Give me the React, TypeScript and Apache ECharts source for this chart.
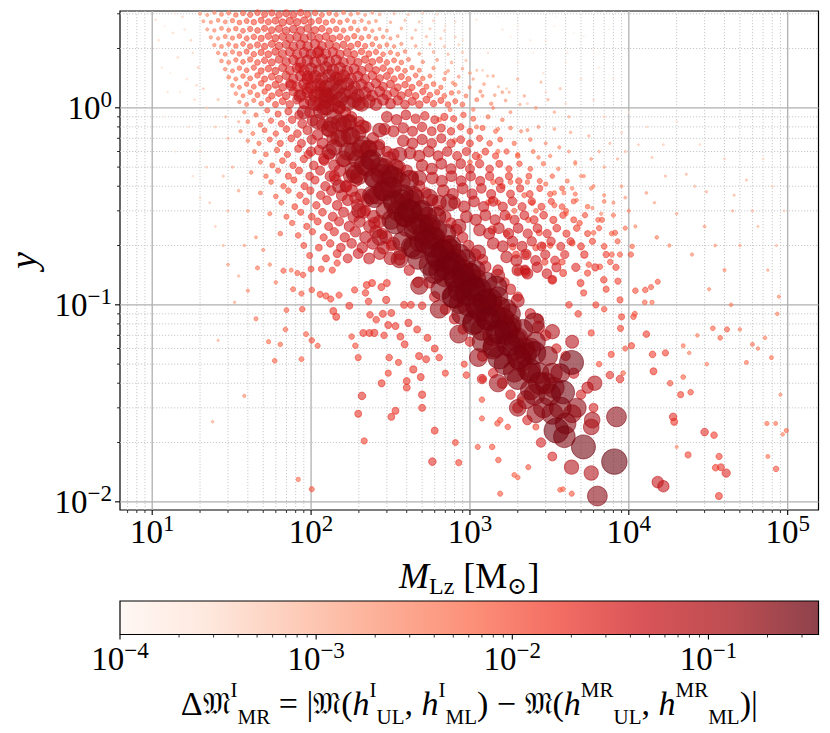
import React, { useEffect, useRef } from 'react';
import * as echarts from 'echarts';

// ---- axis ranges ----
const X_MIN = 6.27;
const X_MAX = 1.563e5;
const Y_MIN = 0.00909;
const Y_MAX = 3.1;
const C_MIN = 1e-4;
const C_MAX = 0.364;

const xMajorTicks = [10, 100, 1000, 10000, 100000];
const yMajorTicks = [0.01, 0.1, 1];
const cMajorTicks = [1e-4, 1e-3, 1e-2, 1e-1];
const minorMultipliers = [2, 3, 4, 5, 6, 7, 8, 9];
const xDecades = [1, 10, 100, 1000, 10000, 100000];
const yDecades = [0.001, 0.01, 0.1, 1];
const cDecades = [1e-4, 1e-3, 1e-2, 1e-1];

// ---- data points: [M_Lz, y, DeltaM] ----
const bandCore = [
  [75, 1.3, 0.05], [85, 1.15, 0.07], [95, 1.25, 0.06], [90, 0.95, 0.08], [105, 1.05, 0.09], [110, 0.85, 0.1],
  [120, 1.0, 0.1], [130, 0.78, 0.12], [140, 0.9, 0.11], [150, 0.7, 0.13], [160, 0.82, 0.12], [170, 0.6, 0.15],
  [180, 0.72, 0.14], [195, 0.55, 0.16], [210, 0.65, 0.15], [225, 0.5, 0.17], [240, 0.545, 0.2], [250, 0.44, 0.18],
  [270, 0.5, 0.18], [282, 0.38, 0.2], [300, 0.42, 0.2], [325, 0.446, 0.22], [330, 0.34, 0.22], [350, 0.3, 0.2],
  [375, 0.21, 0.18], [380, 0.36, 0.22], [415, 0.3, 0.26], [415, 0.43, 0.18], [430, 0.197, 0.22], [460, 0.26, 0.24],
  [500, 0.3, 0.22], [520, 0.23, 0.25], [555, 0.35, 0.14], [580, 0.2, 0.26], [615, 0.28, 0.18], [640, 0.17, 0.28],
  [640, 0.15, 0.22], [710, 0.23, 0.18], [740, 0.165, 0.27], [740, 0.33, 0.14], [800, 0.14, 0.26], [860, 0.18, 0.22],
  [860, 0.119, 0.28], [860, 0.102, 0.22], [950, 0.13, 0.26], [1040, 0.123, 0.3], [1150, 0.119, 0.28], [1150, 0.094, 0.26],
  [1190, 0.075, 0.24], [1250, 0.105, 0.28], [1300, 0.085, 0.27], [1460, 0.123, 0.25], [1530, 0.097, 0.24], [1530, 0.054, 0.27],
  [1600, 0.085, 0.26], [1700, 0.072, 0.27], [1770, 0.077, 0.24], [1900, 0.06, 0.26], [2100, 0.052, 0.24], [2250, 0.033, 0.16],
  [2540, 0.081, 0.2], [2540, 0.057, 0.27], [2600, 0.028, 0.16], [2700, 0.045, 0.22], [3000, 0.04, 0.22], [3300, 0.045, 0.2],
  [3370, 0.038, 0.22], [3500, 0.023, 0.32], [3850, 0.036, 0.28], [3930, 0.0214, 0.24], [4360, 0.051, 0.3], [4400, 0.028, 0.16],
  [5180, 0.019, 0.3], [5800, 0.024, 0.12], [5880, 0.026, 0.12], [6340, 0.0107, 0.2], [8110, 0.016, 0.34], [8360, 0.027, 0.2],
  [3300, 0.073, 0.1], [4400, 0.065, 0.08], [6100, 0.04, 0.1], [5500, 0.038, 0.06], [4360, 0.015, 0.1], [5800, 0.014, 0.1],
  [160, 0.55, 0.12], [185, 0.48, 0.14], [200, 0.75, 0.1], [230, 0.62, 0.12], [260, 0.36, 0.16], [290, 0.3, 0.14],
  [310, 0.55, 0.1], [350, 0.45, 0.12], [400, 0.25, 0.2], [450, 0.35, 0.16], [480, 0.21, 0.2], [550, 0.25, 0.2],
  [600, 0.22, 0.22], [680, 0.19, 0.22], [700, 0.14, 0.24], [760, 0.2, 0.2], [900, 0.15, 0.24], [980, 0.1, 0.26],
  [1000, 0.145, 0.2], [1100, 0.135, 0.18], [1350, 0.1, 0.24], [1400, 0.07, 0.22], [1700, 0.095, 0.2], [2000, 0.068, 0.2],
  [2200, 0.06, 0.22], [2400, 0.045, 0.2],
];

// centre line of the dark band
const bandCentre = [
  [115, 0.96, 0.1], [135, 0.82, 0.12], [158, 0.7, 0.14], [185, 0.6, 0.16], [215, 0.51, 0.18], [250, 0.44, 0.2],
  [290, 0.38, 0.22], [335, 0.33, 0.24], [390, 0.285, 0.25], [455, 0.242, 0.26], [530, 0.208, 0.27], [615, 0.179, 0.28],
  [715, 0.154, 0.29], [830, 0.133, 0.3], [965, 0.114, 0.3], [1120, 0.098, 0.3], [1300, 0.085, 0.3], [1510, 0.073, 0.29],
  [1750, 0.063, 0.28], [2030, 0.054, 0.27], [2360, 0.047, 0.26], [2740, 0.04, 0.25], [3180, 0.035, 0.24], [3700, 0.03, 0.24],
  [125, 1.0, 0.1], [150, 0.84, 0.12], [175, 0.72, 0.14], [205, 0.62, 0.16], [235, 0.54, 0.18], [275, 0.46, 0.2],
  [320, 0.395, 0.22], [370, 0.34, 0.23], [430, 0.295, 0.24], [500, 0.253, 0.25], [580, 0.218, 0.26], [675, 0.187, 0.27],
  [785, 0.161, 0.28], [910, 0.139, 0.28], [1060, 0.119, 0.28], [1230, 0.103, 0.28], [1430, 0.088, 0.27], [1660, 0.076, 0.26],
  [1930, 0.066, 0.25], [2240, 0.056, 0.24],
];

const bandFill = [
  [130, 0.6, 0.1], [150, 1.0, 0.08], [175, 0.85, 0.1], [200, 0.45, 0.14], [210, 0.8, 0.09], [240, 0.36, 0.16],
  [260, 0.62, 0.12], [290, 0.5, 0.14], [320, 0.27, 0.18], [340, 0.5, 0.12], [370, 0.42, 0.16], [390, 0.28, 0.22],
  [440, 0.36, 0.16], [470, 0.17, 0.2], [490, 0.3, 0.18], [540, 0.28, 0.18], [560, 0.16, 0.24], [620, 0.24, 0.2],
  [660, 0.12, 0.22], [720, 0.2, 0.2], [780, 0.11, 0.24], [820, 0.17, 0.22], [900, 0.09, 0.24], [940, 0.17, 0.2],
  [1050, 0.08, 0.24], [1080, 0.15, 0.2], [1200, 0.065, 0.22], [1280, 0.13, 0.2], [1400, 0.06, 0.22], [1500, 0.11, 0.2],
  [1650, 0.05, 0.22], [1800, 0.09, 0.2], [2000, 0.042, 0.22], [2150, 0.075, 0.2], [2400, 0.037, 0.2], [2600, 0.065, 0.18],
  [2900, 0.03, 0.2], [3100, 0.055, 0.18], [3300, 0.028, 0.22], [3700, 0.045, 0.18], [4000, 0.025, 0.22], [4700, 0.03, 0.18],
  [110, 1.2, 0.07], [95, 1.45, 0.05], [85, 1.6, 0.04],
  [150, 0.4, 0.08], [200, 0.3, 0.1], [270, 0.22, 0.12], [360, 0.17, 0.14], [480, 0.125, 0.15], [640, 0.095, 0.16],
  [850, 0.071, 0.16], [1130, 0.054, 0.16], [1500, 0.04, 0.15], [2000, 0.03, 0.14],
  [110, 1.9, 0.05], [150, 1.4, 0.07], [200, 1.05, 0.08], [270, 0.77, 0.09], [360, 0.58, 0.1], [480, 0.44, 0.1],
  [640, 0.33, 0.1], [850, 0.25, 0.1], [1130, 0.185, 0.1], [1500, 0.14, 0.09], [2000, 0.105, 0.08], [2700, 0.077, 0.07],
  [125, 1.15, 0.1], [170, 0.84, 0.12], [230, 0.62, 0.15], [310, 0.46, 0.18], [420, 0.34, 0.2], [560, 0.255, 0.22],
  [750, 0.19, 0.24], [1000, 0.143, 0.26], [1350, 0.106, 0.26], [1800, 0.079, 0.24], [2400, 0.06, 0.22],
  [140, 0.63, 0.12], [190, 0.46, 0.16], [250, 0.35, 0.2], [340, 0.26, 0.24], [450, 0.195, 0.26], [600, 0.147, 0.28],
  [800, 0.11, 0.28], [1070, 0.082, 0.28], [1430, 0.062, 0.26], [1900, 0.046, 0.24], [2550, 0.035, 0.22],
];

const bandRidge = [
  [100, 1.4, 0.04], [115, 1.3, 0.05], [125, 1.2, 0.05], [135, 1.1, 0.06], [150, 1.0, 0.06], [165, 0.95, 0.05],
  [180, 0.9, 0.05], [200, 0.85, 0.05], [220, 0.8, 0.06], [245, 0.7, 0.06], [270, 0.65, 0.05], [300, 0.6, 0.05],
  [330, 0.58, 0.06], [360, 0.5, 0.07], [400, 0.48, 0.06], [440, 0.45, 0.05], [480, 0.4, 0.06], [530, 0.37, 0.05],
  [580, 0.34, 0.06], [640, 0.3, 0.05], [700, 0.28, 0.06], [760, 0.26, 0.05], [820, 0.24, 0.06], [900, 0.22, 0.05],
  [980, 0.2, 0.05], [1080, 0.18, 0.06], [1200, 0.17, 0.05], [1250, 0.156, 0.06], [1380, 0.24, 0.03], [1500, 0.15, 0.05],
  [1650, 0.13, 0.04], [1800, 0.12, 0.05], [2000, 0.11, 0.04], [2220, 0.15, 0.045], [2250, 0.145, 0.035], [2400, 0.09, 0.05],
  [2700, 0.085, 0.04], [3000, 0.07, 0.05], [3300, 0.134, 0.035], [3500, 0.06, 0.04], [4000, 0.055, 0.04], [4500, 0.045, 0.05],
  [5000, 0.035, 0.04], [6000, 0.03, 0.035], [7600, 0.044, 0.025], [8800, 0.042, 0.025],
  [100, 0.6, 0.04], [120, 0.55, 0.05], [140, 0.45, 0.05], [165, 0.4, 0.05], [190, 0.35, 0.06], [220, 0.3, 0.05],
  [250, 0.26, 0.06], [280, 0.23, 0.05], [320, 0.2, 0.05], [360, 0.17, 0.06], [415, 0.15, 0.05], [470, 0.13, 0.05],
  [555, 0.13, 0.06], [600, 0.11, 0.05], [700, 0.095, 0.05], [800, 0.085, 0.05], [900, 0.075, 0.04], [1000, 0.065, 0.04],
  [1190, 0.042, 0.04], [1200, 0.055, 0.05], [1400, 0.045, 0.04], [1600, 0.04, 0.05], [1800, 0.035, 0.04], [2000, 0.03, 0.05],
  [2300, 0.026, 0.04], [2800, 0.02, 0.04], [3300, 0.017, 0.035],
];

const lowerScatter = [
  [209, 0.0345, 0.025], [198, 0.028, 0.02], [216, 0.0204, 0.015], [101, 0.0116, 0.01], [83, 0.013, 0.006], [24, 0.0255, 0.0015],
  [38, 0.0345, 0.003], [580, 0.016, 0.025], [600, 0.023, 0.02], [500, 0.03, 0.02], [500, 0.035, 0.022], [340, 0.029, 0.02],
  [320, 0.027, 0.02], [278, 0.04, 0.02], [400, 0.038, 0.02], [400, 0.041, 0.02], [306, 0.045, 0.015], [490, 0.043, 0.02],
  [355, 0.051, 0.015], [440, 0.047, 0.022], [310, 0.054, 0.018], [198, 0.054, 0.015], [190, 0.062, 0.012], [180, 0.069, 0.012],
  [110, 0.062, 0.01], [101, 0.066, 0.012], [93, 0.071, 0.009], [87, 0.053, 0.009], [59, 0.052, 0.008], [54, 0.065, 0.006],
  [64, 0.063, 0.007], [45, 0.085, 0.005], [70, 0.094, 0.009], [88, 0.095, 0.012], [101, 0.119, 0.012], [87, 0.114, 0.01],
  [77, 0.12, 0.009], [69, 0.075, 0.008], [138, 0.093, 0.02], [144, 0.087, 0.02], [174, 0.099, 0.02], [213, 0.072, 0.02],
  [233, 0.072, 0.02], [250, 0.072, 0.022], [288, 0.07, 0.018], [365, 0.069, 0.02], [388, 0.063, 0.02], [478, 0.055, 0.02],
  [530, 0.053, 0.02], [600, 0.06, 0.02], [540, 0.068, 0.02], [465, 0.075, 0.02], [410, 0.081, 0.022], [340, 0.078, 0.02],
  [306, 0.079, 0.02], [257, 0.084, 0.018], [235, 0.089, 0.018], [283, 0.09, 0.02], [320, 0.091, 0.02], [385, 0.1, 0.02],
  [425, 0.1, 0.02], [500, 0.099, 0.025], [297, 0.106, 0.022], [230, 0.104, 0.018], [133, 0.107, 0.016], [150, 0.112, 0.016],
  [188, 0.119, 0.016], [220, 0.115, 0.018], [224, 0.126, 0.02], [242, 0.129, 0.02], [277, 0.123, 0.02], [300, 0.129, 0.02],
  [114, 0.113, 0.014], [124, 0.111, 0.014], [67, 0.149, 0.01], [89, 0.142, 0.012], [82, 0.145, 0.01], [100, 0.152, 0.014],
  [116, 0.152, 0.014], [136, 0.15, 0.016], [146, 0.163, 0.016], [46, 0.154, 0.005], [30, 0.16, 0.002], [40, 0.118, 0.003],
  [33, 0.103, 0.0015], [26, 0.066, 0.0012],
  [1190, 0.0265, 0.01], [1120, 0.019, 0.01], [1380, 0.019, 0.012], [1510, 0.0163, 0.012], [1550, 0.011, 0.01], [1900, 0.0137, 0.008],
  [2000, 0.0133, 0.008], [2330, 0.015, 0.01], [3690, 0.0115, 0.008], [3850, 0.0116, 0.008], [4370, 0.011, 0.01], [850, 0.0158, 0.015],
  [810, 0.02, 0.014], [1190, 0.033, 0.012], [1490, 0.025, 0.012], [1550, 0.026, 0.012], [1730, 0.024, 0.012], [2600, 0.024, 0.015],
  [2100, 0.033, 0.014], [1200, 0.042, 0.018], [950, 0.044, 0.018], [920, 0.05, 0.015], [640, 0.054, 0.018], [700, 0.045, 0.015],
];

const rightScatter = [
  [11000, 0.118, 0.012], [12700, 0.119, 0.012], [13800, 0.123, 0.01], [15200, 0.131, 0.01], [12600, 0.103, 0.008], [14000, 0.103, 0.006],
  [10700, 0.087, 0.012], [10900, 0.09, 0.01], [10400, 0.062, 0.015], [12900, 0.071, 0.018], [14100, 0.056, 0.018], [17000, 0.057, 0.016],
  [14300, 0.046, 0.02], [18200, 0.04, 0.012], [21200, 0.035, 0.015], [24500, 0.036, 0.012], [22000, 0.043, 0.008], [19000, 0.027, 0.025],
  [19300, 0.0255, 0.02], [23600, 0.0173, 0.015], [30000, 0.0226, 0.025], [34400, 0.0218, 0.018], [37000, 0.017, 0.016], [35200, 0.0149, 0.018],
  [38000, 0.015, 0.02], [41000, 0.014, 0.03], [36900, 0.0107, 0.02], [15200, 0.0126, 0.06], [16500, 0.012, 0.06], [84500, 0.0147, 0.012],
  [98000, 0.023, 0.006], [93000, 0.022, 0.004], [74000, 0.025, 0.006], [84000, 0.025, 0.005], [33800, 0.076, 0.008], [41500, 0.075, 0.01],
  [37600, 0.068, 0.008], [22000, 0.062, 0.005], [24000, 0.057, 0.004], [27000, 0.07, 0.004], [31000, 0.05, 0.004], [55000, 0.051, 0.005],
  [60000, 0.063, 0.005], [65000, 0.06, 0.004], [79000, 0.054, 0.005], [72000, 0.068, 0.004], [50000, 0.075, 0.004], [44000, 0.1, 0.004],
  [32000, 0.12, 0.003], [75000, 0.017, 0.005], [20000, 0.019, 0.003], [90000, 0.035, 0.003], [86000, 0.09, 0.004], [88000, 0.11, 0.003],
  [3300, 0.134, 0.02], [3860, 0.145, 0.02], [4970, 0.129, 0.02], [5200, 0.115, 0.015], [5800, 0.072, 0.015], [6960, 0.134, 0.018],
  [7200, 0.12, 0.015], [8540, 0.132, 0.015], [9000, 0.087, 0.015], [8870, 0.076, 0.015], [8800, 0.106, 0.015], [7750, 0.056, 0.015],
  [6570, 0.156, 0.012], [5600, 0.16, 0.012], [7640, 0.165, 0.012], [7800, 0.18, 0.01], [8790, 0.18, 0.01], [8200, 0.232, 0.01],
  [6770, 0.27, 0.01], [6000, 0.232, 0.008], [4900, 0.26, 0.012], [4400, 0.206, 0.014], [3800, 0.165, 0.015], [2960, 0.165, 0.018],
  [2880, 0.2, 0.014], [3200, 0.2, 0.012], [2730, 0.232, 0.014], [2330, 0.27, 0.012], [2470, 0.33, 0.01], [3400, 0.32, 0.01],
  [4030, 0.3, 0.01], [2600, 0.195, 0.016], [2220, 0.15, 0.03], [2000, 0.148, 0.02], [1950, 0.18, 0.02], [1860, 0.197, 0.018],
  [2250, 0.18, 0.02], [1700, 0.23, 0.016], [1750, 0.28, 0.014], [1500, 0.33, 0.012], [1300, 0.33, 0.012], [9500, 0.06, 0.01],
  [9200, 0.045, 0.008], [6500, 0.05, 0.012], [7000, 0.095, 0.012], [6200, 0.1, 0.015], [4800, 0.09, 0.018], [4200, 0.1, 0.018],
  [5500, 0.145, 0.015],
];

// dense upper cloud, read row by row (y roughly constant per row)
const topCloudRows = [
  [20, 3.0, 2.2e-3], [22.2, 2.96, 2.7e-3], [24.6, 3.04, 3.6e-3], [27.3, 2.98, 4.5e-3], [30.3, 3.03, 5.4e-3], [33.6, 2.96, 7e-3],
  [37.3, 3.02, 9e-3], [41.4, 2.97, 0.011], [46, 3.04, 0.013], [51, 2.98, 0.014], [56.6, 3.03, 0.016], [62.8, 2.96, 0.018],
  [69.7, 3.02, 0.02], [77.4, 2.97, 0.02], [86, 3.04, 0.018], [95, 2.98, 0.014], [106, 3.03, 0.012], [117, 2.96, 9e-3],
  [130, 3.02, 7e-3], [144, 2.97, 5.8e-3], [160, 3.04, 4.7e-3], [178, 2.98, 3.6e-3], [197, 3.02, 2.9e-3], [219, 2.96, 2.3e-3],
  [243, 3.03, 1.8e-3], [270, 2.98, 1.4e-3], [333, 3.0, 1e-3], [410, 2.97, 7e-4], [505, 3.03, 5e-4], [622, 2.98, 4e-4],
  [21, 2.75, 2.2e-3], [23.4, 2.72, 2.9e-3], [26, 2.78, 3.8e-3], [28.8, 2.73, 4.9e-3], [32, 2.77, 6e-3], [35.4, 2.71, 7.6e-3],
  [39.3, 2.76, 9.4e-3], [43.6, 2.72, 0.0115], [48.5, 2.78, 0.014], [53.8, 2.73, 0.016], [59.7, 2.77, 0.019], [66.2, 2.71, 0.022],
  [73.5, 2.76, 0.023], [81.6, 2.72, 0.023], [90.5, 2.78, 0.022], [100, 2.73, 0.018], [112, 2.77, 0.014], [124, 2.71, 0.0115],
  [137, 2.76, 9e-3], [152, 2.72, 7.2e-3], [169, 2.78, 5.8e-3], [187, 2.73, 4.5e-3], [208, 2.77, 3.6e-3], [231, 2.71, 2.9e-3],
  [256, 2.76, 2.2e-3], [316, 2.72, 1.4e-3], [390, 2.78, 1e-3], [480, 2.73, 7e-4], [590, 2.77, 5e-4], [808, 2.74, 3.5e-4],
  [22.2, 2.5, 2.5e-3], [24.6, 2.47, 3.2e-3], [27.3, 2.53, 4.1e-3], [30.3, 2.48, 5.4e-3], [33.6, 2.52, 6.8e-3], [37.3, 2.46, 8.6e-3],
  [41.4, 2.51, 0.011], [46, 2.47, 0.013], [51, 2.53, 0.016], [56.6, 2.48, 0.019], [62.8, 2.52, 0.022], [69.7, 2.46, 0.025],
  [77.4, 2.51, 0.027], [86, 2.47, 0.027], [95, 2.53, 0.025], [106, 2.48, 0.022], [117, 2.52, 0.018], [130, 2.46, 0.014],
  [144, 2.51, 0.0115], [160, 2.47, 9e-3], [178, 2.53, 7.2e-3], [197, 2.48, 5.8e-3], [219, 2.52, 4.5e-3], [243, 2.46, 3.6e-3],
  [270, 2.51, 2.7e-3], [300, 2.47, 2.2e-3], [370, 2.53, 1.4e-3], [455, 2.48, 1e-3], [560, 2.52, 7e-4], [690, 2.47, 5e-4],
  [23.4, 2.28, 2.9e-3], [26, 2.25, 3.6e-3], [28.8, 2.3, 4.7e-3], [32, 2.26, 6e-3], [35.4, 2.31, 7.6e-3], [39.3, 2.25, 9.7e-3],
  [43.6, 2.29, 0.012], [48.5, 2.25, 0.015], [53.8, 2.31, 0.018], [59.7, 2.26, 0.022], [66.2, 2.3, 0.025], [73.5, 2.25, 0.029],
  [81.6, 2.29, 0.032], [90.5, 2.25, 0.032], [100, 2.31, 0.031], [112, 2.26, 0.027], [124, 2.3, 0.023], [137, 2.25, 0.02],
  [152, 2.29, 0.016], [169, 2.25, 0.013], [187, 2.31, 0.0105], [208, 2.26, 8.3e-3], [231, 2.3, 6.5e-3], [256, 2.25, 5e-3],
  [284, 2.29, 4e-3], [316, 2.25, 3.1e-3], [351, 2.31, 2.3e-3], [432, 2.26, 1.6e-3], [532, 2.3, 1.1e-3], [656, 2.25, 7e-4], [808, 2.29, 5e-4],
  [24.6, 2.08, 3.2e-3], [27.3, 2.05, 4.1e-3], [30.3, 2.1, 5.4e-3], [33.6, 2.06, 6.8e-3], [37.3, 2.11, 8.6e-3], [41.4, 2.05, 0.011],
  [46, 2.09, 0.014], [51, 2.05, 0.017], [56.6, 2.11, 0.021], [62.8, 2.06, 0.025], [69.7, 2.1, 0.029], [77.4, 2.05, 0.034],
  [86, 2.09, 0.038], [95, 2.05, 0.04], [106, 2.11, 0.038], [117, 2.06, 0.034], [130, 2.1, 0.031], [144, 2.05, 0.025],
  [160, 2.09, 0.022], [178, 2.05, 0.017], [197, 2.11, 0.014], [219, 2.06, 0.011], [243, 2.1, 8.3e-3], [270, 2.05, 6.5e-3],
  [300, 2.09, 5e-3], [333, 2.05, 4e-3], [370, 2.11, 3.1e-3], [455, 2.06, 2e-3], [560, 2.1, 1.3e-3], [690, 2.05, 9e-4], [850, 2.09, 6e-4],
  [26, 1.9, 3.6e-3], [28.8, 1.87, 4.7e-3], [32, 1.92, 6e-3], [35.4, 1.88, 7.6e-3], [39.3, 1.93, 9.5e-3], [43.6, 1.87, 0.012],
  [48.5, 1.91, 0.015], [53.8, 1.87, 0.019], [59.7, 1.93, 0.023], [66.2, 1.88, 0.029], [73.5, 1.92, 0.034], [81.6, 1.87, 0.04],
  [90.5, 1.91, 0.045], [100, 1.87, 0.047], [112, 1.93, 0.047], [124, 1.88, 0.043], [137, 1.92, 0.038], [152, 1.87, 0.032],
  [169, 1.91, 0.027], [187, 1.87, 0.022], [208, 1.93, 0.017], [231, 1.88, 0.014], [256, 1.92, 0.011], [284, 1.87, 8.3e-3],
  [316, 1.91, 6.5e-3], [351, 1.87, 5e-3], [390, 1.93, 3.8e-3], [480, 1.88, 2.5e-3], [590, 1.92, 1.6e-3], [728, 1.87, 1.1e-3], [897, 1.91, 7e-4],
  [27.3, 1.73, 3.8e-3], [30.3, 1.7, 5e-3], [33.6, 1.75, 6.5e-3], [37.3, 1.71, 8.3e-3], [41.4, 1.76, 0.0105], [46, 1.7, 0.013],
  [51, 1.74, 0.0165], [56.6, 1.7, 0.021], [62.8, 1.76, 0.025], [69.7, 1.71, 0.032], [77.4, 1.75, 0.04], [86, 1.7, 0.047],
  [95, 1.74, 0.054], [106, 1.7, 0.058], [117, 1.76, 0.058], [130, 1.71, 0.054], [144, 1.75, 0.049], [160, 1.7, 0.041],
  [178, 1.74, 0.034], [197, 1.7, 0.029], [219, 1.76, 0.023], [243, 1.71, 0.019], [270, 1.75, 0.015], [300, 1.7, 0.012],
  [333, 1.74, 9.4e-3], [370, 1.7, 7.2e-3], [410, 1.76, 5.6e-3], [505, 1.71, 3.6e-3], [622, 1.75, 2.3e-3], [766, 1.7, 1.4e-3], [944, 1.74, 9e-4],
  [28.8, 1.57, 4e-3], [32, 1.54, 5.2e-3], [35.4, 1.59, 6.7e-3], [39.3, 1.55, 8.6e-3], [43.6, 1.6, 0.011], [48.5, 1.54, 0.014],
  [53.8, 1.58, 0.0175], [59.7, 1.54, 0.022], [66.2, 1.6, 0.027], [73.5, 1.55, 0.034], [81.6, 1.59, 0.043], [90.5, 1.54, 0.052],
  [100, 1.58, 0.061], [112, 1.54, 0.067], [124, 1.6, 0.068], [137, 1.55, 0.067], [152, 1.59, 0.061], [169, 1.54, 0.054],
  [187, 1.58, 0.045], [208, 1.54, 0.037], [231, 1.6, 0.029], [256, 1.55, 0.023], [284, 1.59, 0.018], [316, 1.54, 0.014],
  [351, 1.58, 0.011], [390, 1.54, 8.6e-3], [432, 1.6, 6.8e-3], [480, 1.55, 5.3e-3], [590, 1.59, 3.4e-3], [728, 1.54, 2.2e-3],
  [897, 1.58, 1.4e-3], [1105, 1.55, 9e-4],
  [30.3, 1.43, 4.1e-3], [33.6, 1.4, 5.4e-3], [37.3, 1.45, 7e-3], [41.4, 1.41, 9e-3], [46, 1.46, 0.0115], [51, 1.4, 0.015],
  [56.6, 1.44, 0.019], [62.8, 1.4, 0.023], [69.7, 1.46, 0.031], [77.4, 1.41, 0.038], [86, 1.45, 0.049], [95, 1.4, 0.059],
  [106, 1.44, 0.07], [117, 1.4, 0.077], [130, 1.46, 0.081], [144, 1.41, 0.079], [160, 1.45, 0.07], [178, 1.4, 0.06],
  [197, 1.44, 0.05], [219, 1.4, 0.04], [243, 1.46, 0.032], [270, 1.41, 0.026], [300, 1.45, 0.021], [333, 1.4, 0.017],
  [370, 1.44, 0.014], [410, 1.4, 0.011], [455, 1.46, 8.5e-3], [505, 1.41, 6.8e-3], [560, 1.45, 5.4e-3], [690, 1.4, 3.5e-3],
  [850, 1.44, 2.3e-3], [1048, 1.4, 1.5e-3], [1291, 1.45, 1e-3],
  [32, 1.3, 4.1e-3], [35.4, 1.27, 5.4e-3], [39.3, 1.32, 7e-3], [43.6, 1.28, 9e-3], [48.5, 1.33, 0.0115], [53.8, 1.27, 0.015],
  [59.7, 1.31, 0.02], [66.2, 1.27, 0.025], [73.5, 1.33, 0.032], [81.6, 1.28, 0.041], [90.5, 1.32, 0.054], [100, 1.27, 0.067],
  [112, 1.31, 0.079], [124, 1.27, 0.09], [137, 1.33, 0.094], [152, 1.28, 0.09], [169, 1.32, 0.08], [187, 1.27, 0.07],
  [208, 1.31, 0.058], [231, 1.27, 0.048], [256, 1.33, 0.04], [284, 1.28, 0.033], [316, 1.32, 0.027], [351, 1.27, 0.022],
  [390, 1.31, 0.018], [432, 1.27, 0.015], [480, 1.33, 0.012], [532, 1.28, 9.6e-3], [590, 1.32, 7.8e-3], [656, 1.27, 6.2e-3],
  [808, 1.31, 4e-3], [995, 1.27, 2.6e-3], [1226, 1.32, 1.7e-3], [1511, 1.28, 1.1e-3],
  [33.6, 1.18, 4e-3], [37.3, 1.15, 5.2e-3], [41.4, 1.2, 6.8e-3], [46, 1.16, 8.8e-3], [51, 1.21, 0.0115], [56.6, 1.15, 0.015],
  [62.8, 1.19, 0.02], [69.7, 1.15, 0.025], [77.4, 1.21, 0.034], [86, 1.16, 0.045], [95, 1.2, 0.058], [106, 1.15, 0.072],
  [117, 1.19, 0.086], [130, 1.15, 0.099], [144, 1.21, 0.104], [160, 1.16, 0.1], [178, 1.2, 0.09], [197, 1.15, 0.08],
  [219, 1.19, 0.068], [243, 1.15, 0.057], [270, 1.21, 0.048], [300, 1.16, 0.04], [333, 1.2, 0.034], [370, 1.15, 0.028],
  [410, 1.19, 0.023], [455, 1.15, 0.019], [505, 1.21, 0.016], [560, 1.16, 0.013], [622, 1.2, 0.0105], [690, 1.15, 8.5e-3],
  [766, 1.19, 6.8e-3], [944, 1.15, 4.4e-3], [1163, 1.21, 2.8e-3], [1433, 1.16, 1.8e-3], [1765, 1.2, 1.1e-3],
  [35.4, 1.07, 3.6e-3], [39.3, 1.04, 4.7e-3], [43.6, 1.09, 6.1e-3], [48.5, 1.05, 8.1e-3], [53.8, 1.1, 0.011], [59.7, 1.04, 0.014],
  [66.2, 1.08, 0.019], [73.5, 1.04, 0.025], [81.6, 1.1, 0.034], [90.5, 1.05, 0.047], [100, 1.09, 0.061], [112, 1.04, 0.077],
  [124, 1.08, 0.094], [137, 1.04, 0.104], [152, 1.1, 0.11], [169, 1.05, 0.11], [187, 1.09, 0.1], [208, 1.04, 0.09],
  [231, 1.08, 0.078], [256, 1.04, 0.066], [284, 1.1, 0.056], [316, 1.05, 0.047], [351, 1.09, 0.04], [390, 1.04, 0.034],
  [432, 1.08, 0.029], [480, 1.04, 0.024], [532, 1.1, 0.02], [590, 1.05, 0.017], [656, 1.09, 0.014], [728, 1.04, 0.0115],
  [808, 1.08, 9.4e-3], [897, 1.04, 7.7e-3], [1105, 1.1, 5e-3], [1361, 1.05, 3.2e-3], [1677, 1.09, 2e-3], [2066, 1.04, 1.3e-3],
];

// field left of / below the band
const lowerLeftRows = [
  [38, 0.95, 3.6e-3], [45, 0.92, 6e-3], [53, 0.97, 0.01], [62, 0.93, 0.015], [72, 0.96, 0.022], [84, 0.92, 0.033], [98, 0.95, 0.048],
  [40, 0.85, 4.2e-3], [48, 0.82, 7.2e-3], [56, 0.86, 0.011], [65, 0.83, 0.016], [76, 0.87, 0.024], [88, 0.83, 0.036], [102, 0.86, 0.052], [118, 0.82, 0.065],
  [36, 0.76, 3e-3], [43, 0.74, 5.2e-3], [51, 0.77, 8.4e-3], [60, 0.74, 0.012], [70, 0.78, 0.018], [82, 0.74, 0.026], [95, 0.77, 0.037], [110, 0.73, 0.052], [128, 0.77, 0.065],
  [40, 0.68, 3.9e-3], [47, 0.66, 6.6e-3], [55, 0.69, 0.01], [64, 0.66, 0.0145], [75, 0.7, 0.02], [87, 0.66, 0.029], [101, 0.69, 0.04], [118, 0.66, 0.054], [137, 0.7, 0.068],
  [44, 0.6, 4.8e-3], [52, 0.58, 7.5e-3], [61, 0.61, 0.011], [71, 0.58, 0.016], [83, 0.62, 0.022], [96, 0.58, 0.03], [112, 0.61, 0.042], [130, 0.58, 0.055],
  [48, 0.53, 5.7e-3], [57, 0.51, 8.7e-3], [66, 0.54, 0.0125], [77, 0.51, 0.017], [90, 0.55, 0.024], [104, 0.51, 0.033], [121, 0.54, 0.045], [140, 0.51, 0.058], [160, 0.54, 0.07],
  [42, 0.47, 3.9e-3], [52, 0.45, 6.7e-3], [62, 0.48, 0.01], [72, 0.45, 0.0145], [84, 0.48, 0.02], [98, 0.45, 0.027], [114, 0.48, 0.037], [132, 0.45, 0.05], [152, 0.48, 0.063], [175, 0.45, 0.075],
  [56, 0.42, 7.5e-3], [67, 0.4, 0.011], [78, 0.43, 0.015], [91, 0.4, 0.021], [106, 0.43, 0.028], [123, 0.4, 0.039], [143, 0.43, 0.051], [166, 0.4, 0.064], [192, 0.43, 0.075],
  [48, 0.37, 4.8e-3], [60, 0.355, 8e-3], [72, 0.38, 0.012], [85, 0.36, 0.0165], [99, 0.38, 0.022], [115, 0.36, 0.031], [134, 0.38, 0.042], [156, 0.36, 0.054], [180, 0.38, 0.066], [208, 0.36, 0.075],
  [65, 0.33, 9e-3], [79, 0.315, 0.0135], [93, 0.335, 0.018], [108, 0.32, 0.024], [126, 0.34, 0.033], [146, 0.32, 0.043], [170, 0.34, 0.055], [196, 0.32, 0.067], [226, 0.34, 0.075],
  [55, 0.29, 5.7e-3], [70, 0.28, 9.6e-3], [86, 0.295, 0.0145], [101, 0.28, 0.0195], [118, 0.295, 0.026], [137, 0.28, 0.036], [160, 0.295, 0.046], [185, 0.28, 0.058], [214, 0.295, 0.069], [248, 0.28, 0.075],
  [76, 0.26, 0.0105], [94, 0.25, 0.015], [110, 0.265, 0.021], [129, 0.25, 0.028], [150, 0.265, 0.037], [174, 0.25, 0.048], [202, 0.265, 0.06], [234, 0.25, 0.07], [270, 0.265, 0.075],
  [64, 0.23, 7.2e-3], [83, 0.225, 0.012], [102, 0.235, 0.0165], [120, 0.22, 0.0225], [140, 0.235, 0.03], [163, 0.22, 0.04], [190, 0.235, 0.051], [220, 0.22, 0.063], [256, 0.235, 0.072], [296, 0.22, 0.075],
  [90, 0.2, 0.0135], [112, 0.195, 0.019], [132, 0.205, 0.024], [154, 0.195, 0.033], [180, 0.205, 0.042], [210, 0.195, 0.052], [245, 0.205, 0.063], [285, 0.195, 0.072], [330, 0.205, 0.075],
  [98, 0.178, 0.0145], [124, 0.172, 0.021], [146, 0.182, 0.027], [170, 0.172, 0.036], [198, 0.182, 0.045], [232, 0.172, 0.055], [270, 0.182, 0.066], [315, 0.172, 0.075], [365, 0.182, 0.075],
];

// field above / right of the band
const upperMidRows = [
  [300, 0.9, 0.054], [345, 0.87, 0.049], [395, 0.92, 0.043], [455, 0.88, 0.038], [520, 0.91, 0.032], [600, 0.87, 0.027],
  [690, 0.9, 0.022], [790, 0.88, 0.016], [910, 0.92, 0.012], [1050, 0.88, 8.8e-3], [1300, 0.9, 5.7e-3], [1600, 0.87, 3.8e-3],
  [290, 0.78, 0.06], [330, 0.76, 0.057], [380, 0.79, 0.051], [435, 0.76, 0.046], [500, 0.8, 0.04], [575, 0.76, 0.035],
  [660, 0.79, 0.028], [760, 0.76, 0.023], [875, 0.8, 0.0175], [1000, 0.76, 0.0135], [1200, 0.79, 9.5e-3], [1450, 0.76, 6.5e-3],
  [1800, 0.79, 4.3e-3], [2300, 0.77, 2.7e-3],
  [380, 0.68, 0.06], [435, 0.66, 0.054], [500, 0.69, 0.049], [575, 0.66, 0.043], [660, 0.7, 0.038], [760, 0.66, 0.031],
  [875, 0.69, 0.026], [1000, 0.66, 0.02], [1150, 0.7, 0.016], [1330, 0.66, 0.012], [1550, 0.69, 8.8e-3], [1900, 0.66, 6e-3],
  [2400, 0.69, 4e-3], [3000, 0.66, 2.7e-3],
  [420, 0.59, 0.065], [480, 0.57, 0.059], [550, 0.6, 0.054], [630, 0.57, 0.047], [720, 0.6, 0.042], [830, 0.57, 0.036],
  [950, 0.6, 0.03], [1090, 0.57, 0.024], [1250, 0.6, 0.019], [1450, 0.57, 0.015], [1700, 0.6, 0.011], [2000, 0.57, 7.8e-3],
  [2500, 0.6, 5.4e-3], [3200, 0.57, 3.5e-3], [4200, 0.6, 2.3e-3],
  [500, 0.51, 0.065], [575, 0.49, 0.059], [660, 0.52, 0.054], [760, 0.49, 0.049], [875, 0.52, 0.043], [1000, 0.49, 0.036],
  [1150, 0.52, 0.031], [1330, 0.49, 0.026], [1530, 0.52, 0.02], [1760, 0.49, 0.016], [2050, 0.52, 0.012], [2400, 0.49, 8.9e-3],
  [2900, 0.52, 6.2e-3], [3600, 0.49, 4e-3], [4600, 0.52, 2.7e-3],
  [580, 0.44, 0.065], [665, 0.425, 0.059], [765, 0.45, 0.054], [880, 0.425, 0.049], [1010, 0.45, 0.043], [1160, 0.425, 0.038],
  [1330, 0.45, 0.032], [1530, 0.425, 0.027], [1760, 0.45, 0.022], [2030, 0.425, 0.0175], [2350, 0.45, 0.0135], [2750, 0.425, 0.01],
  [3300, 0.45, 7.3e-3], [4100, 0.425, 5e-3], [5200, 0.45, 3.2e-3],
  [680, 0.38, 0.065], [780, 0.365, 0.059], [900, 0.39, 0.054], [1030, 0.365, 0.049], [1180, 0.39, 0.043], [1360, 0.365, 0.038],
  [1560, 0.39, 0.032], [1800, 0.365, 0.027], [2070, 0.39, 0.023], [2380, 0.365, 0.019], [2750, 0.39, 0.015], [3200, 0.365, 0.011],
  [3800, 0.39, 8.4e-3], [4600, 0.365, 5.9e-3], [5800, 0.39, 4e-3],
  [800, 0.33, 0.065], [920, 0.315, 0.059], [1060, 0.335, 0.054], [1220, 0.315, 0.049], [1400, 0.335, 0.043], [1610, 0.315, 0.038],
  [1850, 0.335, 0.034], [2130, 0.315, 0.028], [2450, 0.335, 0.024], [2820, 0.315, 0.02], [3250, 0.335, 0.016], [3800, 0.315, 0.0125],
  [4500, 0.335, 9.5e-3], [5500, 0.315, 6.8e-3], [7000, 0.335, 4.6e-3],
  [950, 0.28, 0.065], [1090, 0.27, 0.059], [1250, 0.285, 0.054], [1440, 0.27, 0.049], [1660, 0.285, 0.045], [1910, 0.27, 0.039],
  [2200, 0.285, 0.035], [2530, 0.27, 0.03], [2910, 0.285, 0.026], [3350, 0.27, 0.022], [3850, 0.285, 0.0175], [4500, 0.27, 0.014],
  [5300, 0.285, 0.011], [6400, 0.27, 8.1e-3], [8000, 0.285, 5.7e-3],
  [1150, 0.24, 0.065], [1320, 0.23, 0.059], [1520, 0.245, 0.054], [1750, 0.23, 0.049], [2010, 0.245, 0.045], [2310, 0.23, 0.039],
  [2660, 0.245, 0.035], [3060, 0.23, 0.03], [3520, 0.245, 0.026], [4050, 0.23, 0.022], [4700, 0.245, 0.0175], [5500, 0.23, 0.014],
  [6500, 0.245, 0.011], [7800, 0.23, 8.1e-3], [9500, 0.245, 5.9e-3],
  [1400, 0.205, 0.062], [1610, 0.198, 0.057], [1850, 0.21, 0.051], [2130, 0.198, 0.046], [2450, 0.21, 0.04], [2820, 0.198, 0.036],
  [3240, 0.21, 0.032], [3730, 0.198, 0.028], [4300, 0.21, 0.024], [5000, 0.198, 0.02], [5900, 0.21, 0.016], [7000, 0.198, 0.013],
  [8500, 0.21, 0.01], [10500, 0.198, 7.3e-3],
  [1700, 0.175, 0.062], [1960, 0.168, 0.057], [2250, 0.18, 0.05], [2590, 0.168, 0.045], [2980, 0.18, 0.039], [3430, 0.168, 0.034],
  [3950, 0.18, 0.03], [5250, 0.18, 0.023], [7200, 0.18, 0.016], [10300, 0.18, 0.011],
  [2000, 0.15, 0.062], [2300, 0.144, 0.055], [2650, 0.155, 0.049], [3050, 0.144, 0.043], [3500, 0.155, 0.038], [4640, 0.155, 0.03],
  [6150, 0.155, 0.022], [8300, 0.155, 0.016],
];

const upperMid = [
  [1000, 0.53, 0.008], [1370, 0.34, 0.015], [1900, 0.3, 0.01], [2600, 0.3, 0.008], [4040, 0.29, 0.005], [4700, 0.34, 0.004],
  [5900, 0.31, 0.003], [6700, 0.29, 0.003], [3400, 0.37, 0.006], [3900, 0.37, 0.005], [3000, 0.41, 0.006], [4400, 0.39, 0.004],
  [2200, 0.36, 0.01], [1600, 0.4, 0.012], [1400, 0.42, 0.01], [1800, 0.42, 0.009], [2300, 0.42, 0.007], [1150, 0.565, 0.008],
  [1500, 0.6, 0.006], [2000, 0.58, 0.005], [2700, 0.56, 0.004], [3650, 0.63, 0.003], [4600, 0.53, 0.003], [5800, 0.55, 0.002],
  [7000, 0.5, 0.0015], [800, 0.68, 0.008], [1100, 0.8, 0.005], [1500, 0.78, 0.004], [2100, 0.76, 0.003], [2700, 0.8, 0.0025],
  [3400, 0.78, 0.002], [4300, 0.75, 0.0015], [5600, 0.72, 0.0012], [7600, 0.66, 0.001], [9500, 0.6, 0.0008], [640, 0.87, 0.007],
  [750, 0.98, 0.005], [1050, 0.98, 0.004], [1400, 1.0, 0.003], [1800, 0.95, 0.0025], [2600, 1.0, 0.0018], [3400, 0.95, 0.0015],
  [4200, 0.9, 0.0012], [850, 1.2, 0.003], [1200, 1.15, 0.0025], [1600, 1.2, 0.002], [2200, 1.15, 0.0015], [3100, 1.1, 0.0012],
  [780, 1.34, 0.003], [700, 1.5, 0.0025], [1000, 1.5, 0.002], [1400, 1.45, 0.0015], [2000, 1.4, 0.0012], [2800, 1.35, 0.001],
  [3700, 1.25, 0.0008],
  [5000, 0.45, 0.003], [6000, 0.4, 0.003], [7000, 0.36, 0.003], [8000, 0.33, 0.003], [9500, 0.35, 0.002], [6500, 0.6, 0.0015],
  [8500, 0.55, 0.0012],
];

const midLeft = [
  [25, 0.8, 6e-4], [30, 0.7, 1e-3], [35, 0.85, 1.2e-3], [22, 0.5, 5e-4], [20, 0.35, 4e-4], [28, 0.45, 8e-4],
  [30, 0.3, 8e-4], [25, 0.25, 6e-4], [20, 0.6, 4e-4], [17, 0.8, 3e-4], [14, 0.6, 2e-4], [12, 0.9, 1.5e-4],
  [13, 1.5, 1.5e-4], [11, 2.0, 1.2e-4], [12, 2.6, 1.5e-4], [14, 3.0, 2e-4], [16, 2.5, 3e-4], [18, 1.9, 3.5e-4],
  [15, 1.2, 2e-4], [19, 1.3, 4e-4], [22, 1.0, 5e-4], [26, 1.1, 7e-4], [29, 0.9, 9e-4], [18, 0.45, 3e-4],
  [23, 0.33, 5e-4], [32, 0.5, 1.2e-3], [35, 0.38, 1.4e-3], [40, 0.3, 1.8e-3], [45, 0.22, 2.2e-3], [38, 0.2, 1.6e-3],
  [50, 0.19, 3e-3], [55, 0.16, 3.5e-3], [60, 0.13, 4e-3], [75, 0.15, 5e-3], [35, 0.14, 1.2e-3], [28, 0.2, 9e-4],
  [10.5, 2.8, 3e-4], [11, 2.2, 3e-4], [11.5, 1.6, 2.5e-4], [12.5, 1.2, 2.5e-4], [13.5, 2.4, 3.5e-4], [14.5, 1.8, 3.5e-4],
  [15.5, 2.9, 4e-4], [16.5, 1.4, 3e-4], [17.5, 2.2, 4.5e-4], [18.5, 1.1, 3.5e-4], [19.5, 1.6, 5e-4], [21, 1.25, 6e-4],
];

const paleRight = [
  [12900, 0.37, 0.002], [14500, 0.33, 0.0015], [20000, 0.29, 0.0015], [23000, 0.46, 0.001], [30800, 0.375, 0.0012], [46000, 0.36, 0.001],
  [45000, 0.3, 0.0012], [55000, 0.43, 8e-4], [60000, 0.3, 8e-4], [26000, 0.4, 0.001], [17000, 0.45, 0.001], [14000, 0.56, 7e-4],
  [11500, 0.65, 6e-4], [16500, 0.65, 5e-4], [13000, 0.8, 4e-4], [10000, 0.95, 3e-4], [20000, 0.85, 3e-4], [9000, 0.4, 0.002],
  [10000, 0.3, 0.003], [11000, 0.25, 0.003], [15000, 0.22, 0.004], [18000, 0.2, 0.003], [25000, 0.18, 0.003], [30000, 0.25, 0.002],
  [35000, 0.2, 0.002], [40000, 0.15, 0.003], [50000, 0.2, 0.0015], [65000, 0.25, 0.001], [75000, 0.15, 0.0015], [85000, 0.2, 0.001],
  [95000, 0.3, 6e-4], [80000, 0.4, 5e-4], [70000, 0.55, 4e-4], [40000, 0.55, 5e-4], [28000, 0.65, 4e-4], [9000, 0.75, 5e-4],
  [7000, 0.9, 5e-4], [6000, 1.1, 4e-4], [5000, 1.4, 3e-4], [4000, 1.7, 2.5e-4], [3000, 2.2, 2e-4], [2000, 2.6, 1.5e-4],
  [2500, 1.9, 2e-4], [4500, 2.4, 1.2e-4], [6000, 1.9, 1.5e-4], [8000, 1.4, 2e-4], [8000, 2.8, 1.1e-4], [3500, 2.9, 1.1e-4],
  [1500, 2.9, 1.2e-4], [1800, 2.3, 1.5e-4],
  [700, 2.6, 3e-4], [900, 2.2, 3e-4], [1100, 2.8, 2.5e-4], [1300, 1.9, 3e-4], [1600, 2.5, 2.5e-4], [2000, 1.7, 3e-4],
  [2400, 2.2, 2e-4], [2900, 1.5, 3e-4], [3400, 2.6, 1.5e-4], [4100, 1.9, 2e-4], [5200, 2.3, 1.5e-4], [6500, 1.6, 2e-4],
  [7500, 2.5, 1.2e-4], [1200, 1.55, 5e-4], [1700, 1.25, 5e-4], [2300, 1.05, 5e-4], [3000, 1.2, 4e-4], [4000, 1.05, 4e-4],
];

// ---- styling helpers ----
const REDS = ['#fff5f0', '#fee0d2', '#fcbba1', '#fc9272', '#fb6a4a', '#ef3b2c', '#cb181d', '#a50f15', '#67000d'];
const ALPHA = 0.74;
const SERIF = "'Liberation Serif', 'DejaVu Serif', serif";

function hexToRgb(h: string) {
  return [parseInt(h.slice(1, 3), 16), parseInt(h.slice(3, 5), 16), parseInt(h.slice(5, 7), 16)];
}
function redsAt(p: number, alpha: number) {
  const q = Math.max(0, Math.min(1, p)) * (REDS.length - 1);
  const i = Math.min(REDS.length - 2, Math.floor(q));
  const t = q - i;
  const a = hexToRgb(REDS[i]);
  const b = hexToRgb(REDS[i + 1]);
  const c = a.map((v, k) => Math.round(v + (b[k] - v) * t));
  return `rgba(${c[0]},${c[1]},${c[2]},${alpha})`;
}
function norm(d: number) {
  return (Math.log10(d) - Math.log10(C_MIN)) / (Math.log10(C_MAX) - Math.log10(C_MIN));
}
function minorList(decades: number[], lo: number, hi: number) {
  const out: number[] = [];
  decades.forEach((d) => minorMultipliers.forEach((m) => {
    const v = d * m;
    if (v > lo && v < hi) out.push(v);
  }));
  return out;
}
function expLabel(v: number) {
  const e = Math.log10(v);
  const r = Math.round(e);
  if (Math.abs(e - r) > 1e-6) return '';
  const s = r < 0 ? '\u2212' + Math.abs(r) : String(r);
  return `{b|10}{s|${s}}`;
}

const tickRich = {
  b: { fontFamily: SERIF, fontSize: 33, lineHeight: 40, color: '#000' },
  s: { fontFamily: SERIF, fontSize: 23, lineHeight: 22, verticalAlign: 'top', color: '#000' },
};

export default function App() {
  const ref = useRef<HTMLDivElement>(null);
  useEffect(() => {
    if (!ref.current) return;
    const chart = echarts.init(ref.current, null, { renderer: 'svg' });

    const all = [
      ...paleRight, ...midLeft, ...topCloudRows, ...lowerLeftRows, ...upperMidRows, ...upperMid,
      ...rightScatter, ...lowerScatter, ...bandRidge, ...bandFill, ...bandCore, ...bandCentre,
    ].slice().sort((a, b) => a[2] - b[2]);
    const scatterData = all.map((p) => {
      const col = redsAt(norm(p[2]), ALPHA);
      return {
        value: p,
        symbolSize: 1 + 42 * Math.sqrt(p[2]),
        itemStyle: { color: col, borderColor: col, borderWidth: 1 },
      };
    });

    const xMinor = minorList(xDecades, X_MIN, X_MAX);
    const yMinor = minorList(yDecades, Y_MIN, Y_MAX);
    const cMinor = minorList(cDecades, C_MIN, C_MAX);

    const gridStyle = (major: boolean) => (major
      ? { stroke: '#b0b0b0', lineWidth: 1.3 }
      : { stroke: '#c4c4c4', lineWidth: 0.9, lineDash: [1.2, 1.8] });
    const vLine = (major: boolean) => (params: any, api: any) => {
      const v = api.value(0);
      const t = api.coord([v, Y_MAX]);
      const b = api.coord([v, Y_MIN]);
      return {
        type: 'group',
        children: [
          { type: 'line', shape: { x1: b[0], y1: t[1], x2: b[0], y2: b[1] }, style: gridStyle(major) },
          { type: 'line', shape: { x1: b[0], y1: b[1], x2: b[0], y2: b[1] + (major ? 5 : 3) },
            style: { stroke: '#000', lineWidth: major ? 1.1 : 0.8 } },
        ],
      };
    };
    const hLine = (major: boolean) => (params: any, api: any) => {
      const v = api.value(1);
      const l = api.coord([X_MIN, v]);
      const r = api.coord([X_MAX, v]);
      return {
        type: 'group',
        children: [
          { type: 'line', shape: { x1: l[0], y1: l[1], x2: r[0], y2: l[1] }, style: gridStyle(major) },
          { type: 'line', shape: { x1: l[0] - (major ? 5 : 3), y1: l[1], x2: l[0], y2: l[1] },
            style: { stroke: '#000', lineWidth: major ? 1.1 : 0.8 } },
        ],
      };
    };
    const cTick = (major: boolean) => (params: any, api: any) => {
      const v = api.value(0);
      const b = api.coord([v, 0]);
      return { type: 'line', shape: { x1: b[0], y1: b[1], x2: b[0], y2: b[1] + (major ? 5 : 3) },
        style: { stroke: '#000', lineWidth: major ? 1.1 : 0.8 } };
    };
    const stops = REDS.map((c, i) => ({ offset: i / (REDS.length - 1), color: redsAt(i / (REDS.length - 1), ALPHA) }));

    const titleRich = {
      r: { fontFamily: SERIF, fontSize: 34, lineHeight: 48, color: '#000' },
      it: { fontFamily: SERIF, fontSize: 34, lineHeight: 48, fontStyle: 'italic', color: '#000' },
      fk: { fontFamily: "'DejaVu Serif', 'DejaVu Sans', serif", fontSize: 30, lineHeight: 48, color: '#000' },
      sp: { fontFamily: SERIF, fontSize: 21, lineHeight: 20, verticalAlign: 'top', color: '#000' },
      sb: { fontFamily: SERIF, fontSize: 21, lineHeight: 20, verticalAlign: 'bottom', color: '#000' },
    };
    const xTitleRich = {
      r: { fontFamily: SERIF, fontSize: 36, lineHeight: 44, color: '#000' },
      it: { fontFamily: SERIF, fontSize: 36, lineHeight: 44, fontStyle: 'italic', color: '#000' },
      sb: { fontFamily: SERIF, fontSize: 24, lineHeight: 20, verticalAlign: 'bottom', color: '#000' },
    };
    const F = '\u{1D510}';
    const cbTitle =
      `{r|\u0394}{fk|${F}}{sp|I}{sb|MR}{r| = |}{fk|${F}}{r|(}{it|h}{sp|I}{sb|UL}{r|, }{it|h}{sp|I}{sb|ML}{r|) \u2212 }` +
      `{fk|${F}}{r|(}{it|h}{sp|MR}{sb|UL}{r|, }{it|h}{sp|MR}{sb|ML}{r|)|}`;

    chart.setOption({
      animation: false,
      backgroundColor: '#fff',
      grid: [
        { left: 120, top: 11, width: 698.5, height: 499, show: true, borderColor: '#000', borderWidth: 1.2,
          backgroundColor: 'transparent', containLabel: false, outerBoundsMode: 'none' },
        { left: 120, top: 601, width: 698.5, height: 33.5, show: false, containLabel: false, outerBoundsMode: 'none' },
      ],
      xAxis: [
        {
          type: 'log', logBase: 10, min: X_MIN, max: X_MAX, gridIndex: 0,
          axisLine: { show: false }, axisTick: { show: false }, splitLine: { show: false }, minorTick: { show: false },
          axisLabel: { formatter: expLabel, rich: tickRich, margin: 2, hideOverlap: false },
          name: `{it|M}{sb|Lz}{r| [M}{sb|\u2299}{r|]}`,
          nameLocation: 'middle', nameGap: 44,
          nameTextStyle: { rich: xTitleRich },
        },
        {
          type: 'log', logBase: 10, min: C_MIN, max: C_MAX, gridIndex: 1,
          axisLine: { show: false }, axisTick: { show: false }, splitLine: { show: false },
          axisLabel: { formatter: expLabel, rich: tickRich, margin: 4, hideOverlap: false },
          name: cbTitle, nameLocation: 'middle', nameGap: 45,
          nameTextStyle: { rich: titleRich },
        },
      ],
      yAxis: [
        {
          type: 'log', logBase: 10, min: Y_MIN, max: Y_MAX, gridIndex: 0,
          axisLine: { show: false }, axisTick: { show: false }, splitLine: { show: false },
          axisLabel: { formatter: expLabel, rich: tickRich, margin: 8 },
          name: '{it|y}', nameLocation: 'middle', nameGap: 78, nameRotate: 90,
          nameTextStyle: { rich: { it: { fontFamily: SERIF, fontSize: 38, fontStyle: 'italic', color: '#000' } } },
        },
        { type: 'value', min: 0, max: 1, gridIndex: 1, show: false },
      ],
      series: [
        { type: 'custom', xAxisIndex: 0, yAxisIndex: 0, renderItem: vLine(false), data: xMinor.map((v) => [v, 1]), silent: true, clip: false, z: 1 },
        { type: 'custom', xAxisIndex: 0, yAxisIndex: 0, renderItem: vLine(true), data: xMajorTicks.map((v) => [v, 1]), silent: true, clip: false, z: 1 },
        { type: 'custom', xAxisIndex: 0, yAxisIndex: 0, renderItem: hLine(false), data: yMinor.map((v) => [100, v]), silent: true, clip: false, z: 1 },
        { type: 'custom', xAxisIndex: 0, yAxisIndex: 0, renderItem: hLine(true), data: yMajorTicks.map((v) => [100, v]), silent: true, clip: false, z: 1 },
        {
          type: 'scatter', xAxisIndex: 0, yAxisIndex: 0, data: scatterData, symbol: 'circle', clip: true, z: 3,
          emphasis: { disabled: true }, silent: true,
        },
        {
          type: 'custom', xAxisIndex: 1, yAxisIndex: 1, silent: true, clip: false, z: 2,
          data: [[C_MIN, 0]],
          renderItem: (params: any, api: any) => {
            const p0 = api.coord([C_MIN, 1]);
            const p1 = api.coord([C_MAX, 0]);
            return {
              type: 'rect',
              shape: { x: p0[0], y: p0[1], width: p1[0] - p0[0], height: p1[1] - p0[1] },
              style: { fill: new echarts.graphic.LinearGradient(0, 0, 1, 0, stops), stroke: '#000', lineWidth: 1.2 },
            };
          },
        },
        { type: 'custom', xAxisIndex: 1, yAxisIndex: 1, renderItem: cTick(true), data: cMajorTicks.map((v) => [v, 0]), silent: true, clip: false, z: 2 },
        { type: 'custom', xAxisIndex: 1, yAxisIndex: 1, renderItem: cTick(false), data: cMinor.map((v) => [v, 0]), silent: true, clip: false, z: 2 },
      ],
    });
    return () => chart.dispose();
  }, []);
  return <div ref={ref} style={{ position: 'fixed', left: 0, top: 0, width: 830, height: 733, background: '#fff' }} />;
}
